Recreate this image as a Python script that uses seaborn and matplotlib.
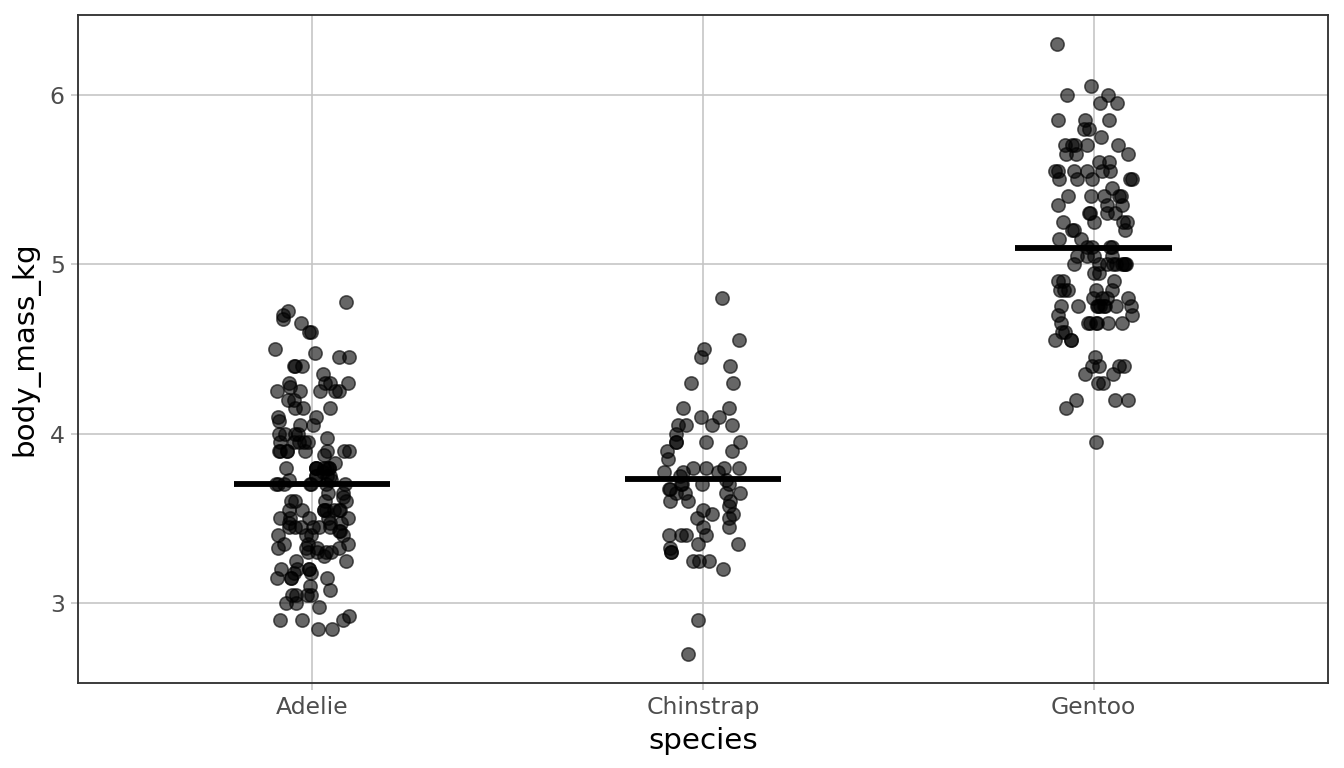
import numpy as np
import pandas as pd
import matplotlib
matplotlib.use("Agg")
import matplotlib.pyplot as plt
import seaborn as sns

species_order = ["Adelie", "Chinstrap", "Gentoo"]

adelie_g = [3750, 3800, 3250, 3450, 3650, 3625, 4675, 3475, 4250, 3300, 3700, 3200, 3800, 4400, 3700, 3450, 4500, 3325, 4200,
            3400, 3600, 3800, 3950, 3800, 3800, 3550, 3200, 3150, 3950,
            3250, 3900, 3300, 3900, 3325, 4150, 3950, 3550, 3300, 4650, 3150, 3900, 3100, 4400, 3000, 4600, 3425, 2975, 3450, 4150,
            3500, 4300, 3450, 4050, 2900, 3700, 3550, 3800, 2850, 3750,
            3150, 4400, 3600, 4050, 2850, 3950, 3350, 4100, 3050, 4450,
            3600, 3900, 3550, 4150, 3700, 4250, 3700, 3900, 3550, 4000,
            3200, 4700, 3800, 4200, 3350, 3550, 3800, 3500, 3950, 3600,
            3550, 4300, 3400, 4450, 3300, 4300, 3700, 4350, 2900, 4100,
            3725, 4725, 3075, 4250, 2925, 3550, 3750, 3900, 3175, 4775,
            3825, 4600, 3200, 4275, 3900, 4075, 2900, 3775, 3350, 3325,
            3150, 3500, 3450, 3875, 3050, 4000, 3275, 4300, 3050, 4000,
            3325, 3500, 3500, 4475, 3425, 3900, 3175, 3975, 3400, 4250,
            3400, 3475, 3050, 3725, 3000, 3650, 4250, 3475, 3450, 3750,
            3700, 4000]

chinstrap_g = [3500, 3900, 3650, 3525, 3725, 3950, 3250, 3750, 4150, 3700,
               3800, 3775, 3700, 4050, 3575, 4050, 3300, 3700, 3450, 4400,
               3600, 3400, 2900, 3800, 3300, 4150, 3400, 3800, 3700, 4550,
               3200, 4300, 3350, 4100, 3600, 3900, 3850, 4800, 2700, 4500,
               3950, 3650, 3550, 3500, 3675, 4450, 3400, 4300, 3250, 3675,
               3325, 3950, 3600, 4050, 3350, 3450, 3250, 4050, 3800, 3525,
               3950, 3650, 3650, 4000, 3400, 3775, 4100, 3775]

gentoo_g = [6300, 6050, 6000, 6000, 5950, 5950, 5850, 5850, 5850, 5800, 5800, 5750,
            5700, 5700, 5700, 5700, 5700, 5650, 5650, 5650, 5600, 5600,
            5550, 5550, 5550, 5550, 5550, 5550, 5500, 5500, 5500, 5500, 5500, 5450,
            5400, 5400, 5400, 5400, 5400, 5350, 5350, 5350, 5300, 5300, 5300, 5300,
            5250, 5250, 5250, 5250, 5200, 5200, 5200, 5150, 5150,
            5100, 5100, 5100, 5100, 5050, 5050, 5050,
            5000, 5000, 5000, 5000, 5000, 5000, 5000, 4950, 4950, 4900, 4900,
            4850, 4850, 4850, 4850, 4800, 4800, 4800,
            4750, 4750, 4750, 4750, 4750, 4750, 4750, 4750,
            4650, 4650, 4650, 4650, 4650, 4650, 4600, 4600, 4550, 4550, 4550, 4450,
            4400, 4400, 4400, 4400, 4350, 4350, 4300, 4300, 4200, 4200, 4200, 4150, 3950,
            4700, 4700, 4750, 4850, 4900, 5000, 5000, 5050, 4650, 4800]

df = pd.DataFrame({
    "species": ["Adelie"] * len(adelie_g) + ["Chinstrap"] * len(chinstrap_g) + ["Gentoo"] * len(gentoo_g),
    "body_mass_kg": np.array(adelie_g + chinstrap_g + gentoo_g) / 1000.0,
})

sns.set_theme(style="white")
plt.rcParams["font.family"] = ["DejaVu Sans"]

fig = plt.figure(figsize=(7, 4), dpi=192)
ax = fig.add_axes([0.058, 0.111, 0.930, 0.8695])

np.random.seed(3)
sns.stripplot(data=df, x="species", y="body_mass_kg", order=species_order,
              jitter=0.1, color="black", alpha=0.6, size=5.0,
              linewidth=0.6, edgecolor="black", ax=ax, zorder=3)

means = df.groupby("species")["body_mass_kg"].mean().reindex(species_order)
for i, m in enumerate(means.values):
    ax.hlines(m, i - 0.2, i + 0.2, color="black", linewidth=2.2, zorder=4)

ax.set_xlim(-0.6, 2.6)
ax.set_ylim(2.53, 6.47)
ax.set_yticks([3, 4, 5, 6])
ax.set_yticklabels(["3", "4", "5", "6"])

ax.set_axisbelow(True)
ax.xaxis.grid(True, color="#c4c4c4", linewidth=0.6)
ax.yaxis.grid(True, color="#c4c4c4", linewidth=0.6)

for s in ax.spines.values():
    s.set_color("#333333")
    s.set_linewidth(0.7)

ax.tick_params(axis="both", which="major", length=2.75, width=0.6, color="#c4c4c4",
               labelsize=8.8, labelcolor="#4d4d4d", pad=2.2, left=True, bottom=True)
ax.set_xlabel("species", fontsize=11, color="black", labelpad=3)
ax.set_ylabel("body_mass_kg", fontsize=11, color="black", labelpad=4)

fig.savefig("out.png", dpi=192)
